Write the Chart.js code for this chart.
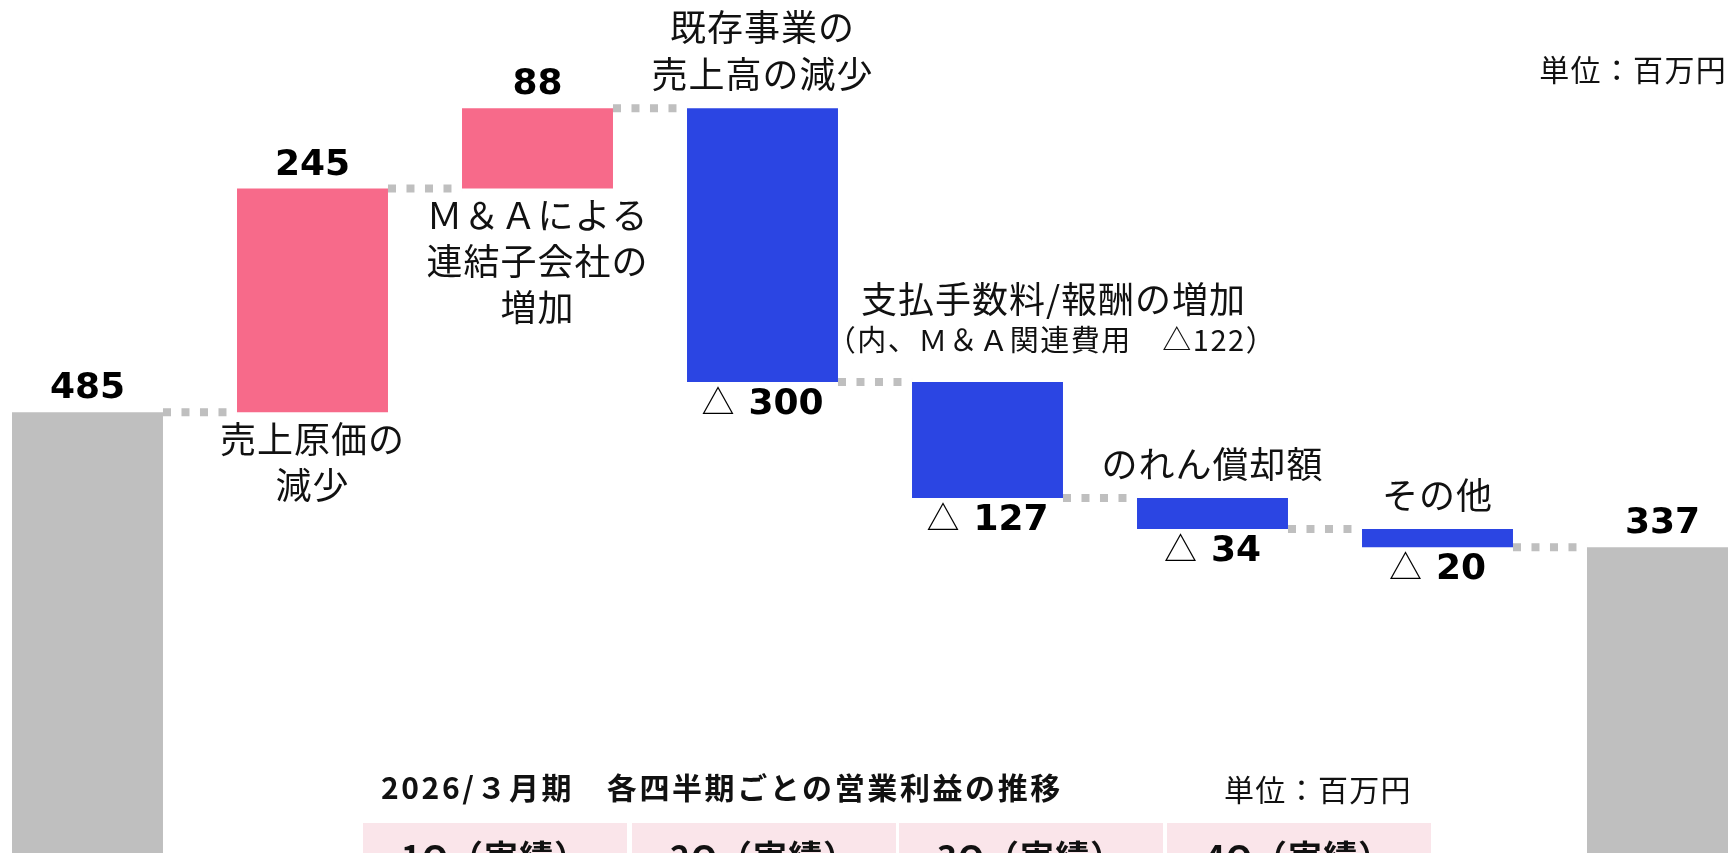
<!DOCTYPE html>
<html lang="ja">
<head>
<meta charset="utf-8">
<script src="https://cdn.jsdelivr.net/npm/chart.js@4/dist/chart.umd.min.js"></script>
<style>
  html, body { margin: 0; padding: 0; background: #fff; width: 1728px; height: 853px; overflow: hidden; }
  #chart { position: absolute; left: -25px; top: 0; }
  .txt { position: absolute; font-family: "Noto Sans CJK JP", sans-serif; color: #111; white-space: nowrap; line-height: 1; }
  .cell { position: absolute; top: 823px; height: 40px; background: #fae5ea; text-align: center;
          font-family: "Noto Sans CJK JP", sans-serif; font-weight: bold; font-size: 34px; line-height: 1;
          padding-top: 16px; box-sizing: border-box; color: #111; white-space: nowrap; letter-spacing: 1px; }
</style>
</head>
<body>
<canvas id="chart" width="1800" height="855"></canvas>
<div class="txt" id="unitTop" style="right:1px; top:53px; font-size:30px; letter-spacing:1.3px;"></div>
<div class="txt" id="tableTitle" style="left:381px; top:771px; font-size:30px; font-weight:bold; letter-spacing:2.6px;"></div>
<div class="txt" id="unitTable" style="left:1224px; top:773px; font-size:30px; letter-spacing:1.3px;"></div>
<div id="cells"></div>
<script>
// 営業利益の増減（単位：百万円）
const startValue = 485
const changes = [245, 88, -300, -127, -34, -20]
const endValue = 337
const stepNames = [
  ['売上原価の', '減少'],
  ['Ｍ＆Ａによる', '連結子会社の', '増加'],
  ['既存事業の', '売上高の減少'],
  ['支払手数料/報酬の増加'],
  ['のれん償却額'],
  ['その他']
]
const stepNotes = ['', '', '', '（内、Ｍ＆Ａ関連費用　△122）', '', '']
const unitLabel = '単位：百万円'
const tableTitle = '2026/３月期　各四半期ごとの営業利益の推移'
const quarterHeads = ['1Q（実績）', '2Q（実績）', '3Q（実績）', '4Q（実績）']

const GRAY = '#bfbfbf', PINK = '#f76a8a', BLUE = '#2b45e3'

// floating bars for the waterfall
const ranges = [[0, startValue]]
let run = startValue
changes.forEach(c => { ranges.push([run, run + c]); run += c })
ranges.push([0, endValue])
const levels = ranges.map(r => r[1])
const values = [startValue, ...changes, endValue]
const labels = ['', ...stepNames.map(n => n.join('')), '']
const colors = values.map((v, i) => (i === 0 || i === values.length - 1) ? GRAY : (v > 0 ? PINK : BLUE))

const JP = '"Noto Sans CJK JP", sans-serif'
const NUM = '"DejaVu Sans", sans-serif'

const decor = {
  id: 'decor',
  beforeDatasetsDraw(chart) {
    const ctx = chart.ctx
    const y = chart.scales.y
    const bars = chart.getDatasetMeta(0).data
    ctx.save()
    ctx.strokeStyle = GRAY
    ctx.lineWidth = 8
    ctx.setLineDash([8, 10.5])
    for (let i = 0; i < bars.length - 1; i++) {
      const a = bars[i], b = bars[i + 1]
      const py = y.getPixelForValue(levels[i])
      ctx.beginPath()
      ctx.moveTo(a.x + a.width / 2, py)
      ctx.lineTo(b.x - b.width / 2, py)
      ctx.stroke()
    }
    ctx.restore()
  },
  afterDatasetsDraw(chart) {
    const ctx = chart.ctx
    const bars = chart.getDatasetMeta(0).data
    ctx.save()
    ctx.fillStyle = '#000'
    bars.forEach((el, i) => {
      const top = Math.min(el.y, el.base)
      const bottom = Math.max(el.y, el.base)
      const v = values[i]
      ctx.textBaseline = 'alphabetic'
      if (v >= 0) {
        ctx.font = 'bold 36px ' + NUM
        ctx.textAlign = 'center'
        ctx.fillText(String(v), el.x, top - 14)
      } else {
        const num = String(Math.abs(v))
        ctx.font = '33px ' + JP
        const wt = ctx.measureText('△').width
        ctx.font = 'bold 36px ' + NUM
        const wn = ctx.measureText(num).width
        const gap = 14
        const x0 = el.x - (wt + gap + wn) / 2
        ctx.textAlign = 'left'
        ctx.font = '33px ' + JP
        ctx.fillText('△', x0, bottom + 32)
        ctx.font = 'bold 36px ' + NUM
        ctx.fillText(num, x0 + wt + gap, bottom + 32)
      }

      // category text
      if (i === 0 || i === bars.length - 1) return
      const lines = stepNames[i - 1]
      const note = stepNotes[i - 1]
      ctx.fillStyle = '#111'
      ctx.textAlign = 'center'
      ctx.textBaseline = 'middle'
      ctx.letterSpacing = '1px'
      if (v > 0) {
        ctx.font = '36px ' + JP
        lines.forEach((t, k) => ctx.fillText(t, el.x, bottom + 27 + k * 46))
      } else {
        let lastY = top - 34
        let shift = 0
        if (note) {
          ctx.font = '29px ' + JP
          ctx.letterSpacing = '1.5px'
          ctx.fillText(note, el.x + 64, top - 42)
          ctx.letterSpacing = '1px'
          lastY = top - 83
          shift = 66
        }
        ctx.font = '36px ' + JP
        lines.forEach((t, k) => ctx.fillText(t, el.x + shift, lastY - (lines.length - 1 - k) * 47))
      }
      ctx.letterSpacing = '0px'
      ctx.fillStyle = '#000'
    })
    ctx.restore()
  }
}

new Chart(document.getElementById('chart'), {
  type: 'bar',
  data: {
    labels: labels,
    datasets: [{
      data: ranges,
      backgroundColor: colors,
      borderWidth: 0,
      barPercentage: 0.671,
      categoryPercentage: 1.0
    }]
  },
  options: {
    responsive: false,
    animation: false,
    layout: { padding: 0 },
    plugins: {
      legend: { display: false },
      tooltip: { enabled: false }
    },
    scales: {
      x: { display: false, offset: true },
      y: { display: false, min: 0, max: 936.5 }
    }
  },
  plugins: [decor]
})

document.getElementById('unitTop').textContent = unitLabel
document.getElementById('tableTitle').textContent = tableTitle
document.getElementById('unitTable').textContent = unitLabel
const cellLeft = [363, 632, 899, 1167]
const cells = document.getElementById('cells')
quarterHeads.forEach((q, i) => {
  const d = document.createElement('div')
  d.className = 'cell'
  d.style.left = cellLeft[i] + 'px'
  d.style.width = '264px'
  d.textContent = q
  cells.appendChild(d)
})
</script>
</body>
</html>
